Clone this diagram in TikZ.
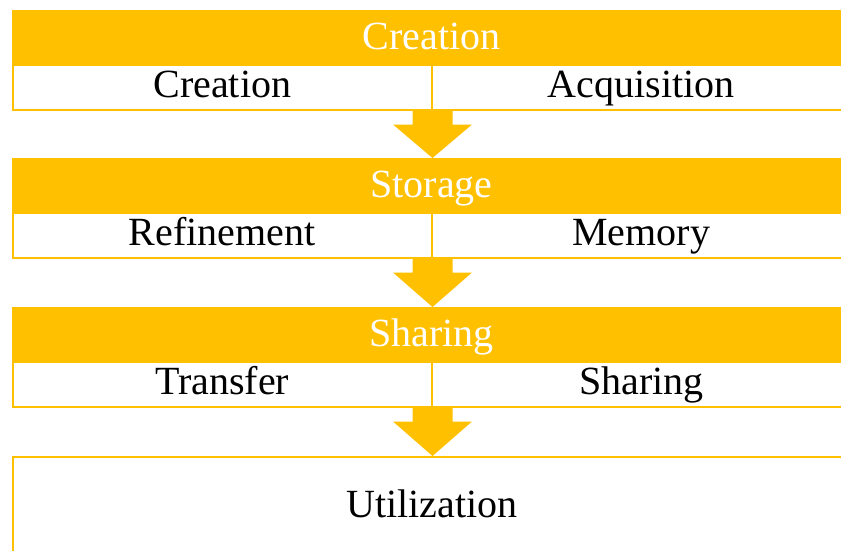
\documentclass[tikz,border=0pt]{standalone}
\usepackage{fontspec}
\setmainfont{Liberation Serif}
\usetikzlibrary{calc}
\definecolor{gold}{HTML}{FFC000}
\newcommand\stagearrow[2]{%
  % block arrow from the bottom of a row (#1: its left cell) down to the next stage (#2)
  \coordinate (sa) at (#1.south east);
  \fill[gold] ($(sa)+(-20,0)$) -- ($(sa)+(-20,14)$) -- ($(sa)+(-39.5,14)$)
    -- (#2.north -| sa) -- ($(sa)+(39.5,14)$) -- ($(sa)+(20,14)$)
    -- ($(sa)+(20,0)$) -- cycle;}
\begin{document}
\begin{tikzpicture}[x=1pt,y=-1pt,
  txt/.style={font=\fontsize{40}{48}\selectfont,inner sep=0pt,anchor=north west},
  headbar/.style={txt,fill=gold,draw=gold,line width=1pt,text=white,
    minimum width=838pt,minimum height=54pt,text height=26pt,text depth=2pt},
  subcell/.style={txt,fill=white,draw=gold,line width=1.5pt,text=black,
    minimum width=419pt,minimum height=45pt,text height=24pt,text depth=3pt},
  lastbox/.style={txt,fill=white,draw=gold,line width=1.5pt,text=black,
    minimum width=838pt,minimum height=96pt,text height=27pt,text depth=1pt}]
\useasboundingbox (0,0) rectangle (841,550);

% stage 1
\node[headbar] (h1) at (12,10) {Creation};
\node[subcell] (c1l) at (12,64) {Creation};
\node[subcell] (c1r) at (431,64) {Acquisition};

% stage 2
\node[headbar] (h2) at (12,158) {Storage};
\node[subcell] (c2l) at (12,212) {Refinement};
\node[subcell] (c2r) at (431,212) {Memory};

% stage 3
\node[headbar] (h3) at (12,307) {Sharing};
\node[subcell] (c3l) at (12,361) {Transfer};
\node[subcell] (c3r) at (431,361) {Sharing};

% final stage
\node[lastbox] (u) at (12,456) {Utilization};

% arrows between stages
\stagearrow{c1l}{h2}
\stagearrow{c2l}{h3}
\stagearrow{c3l}{u}
\end{tikzpicture}
\end{document}
